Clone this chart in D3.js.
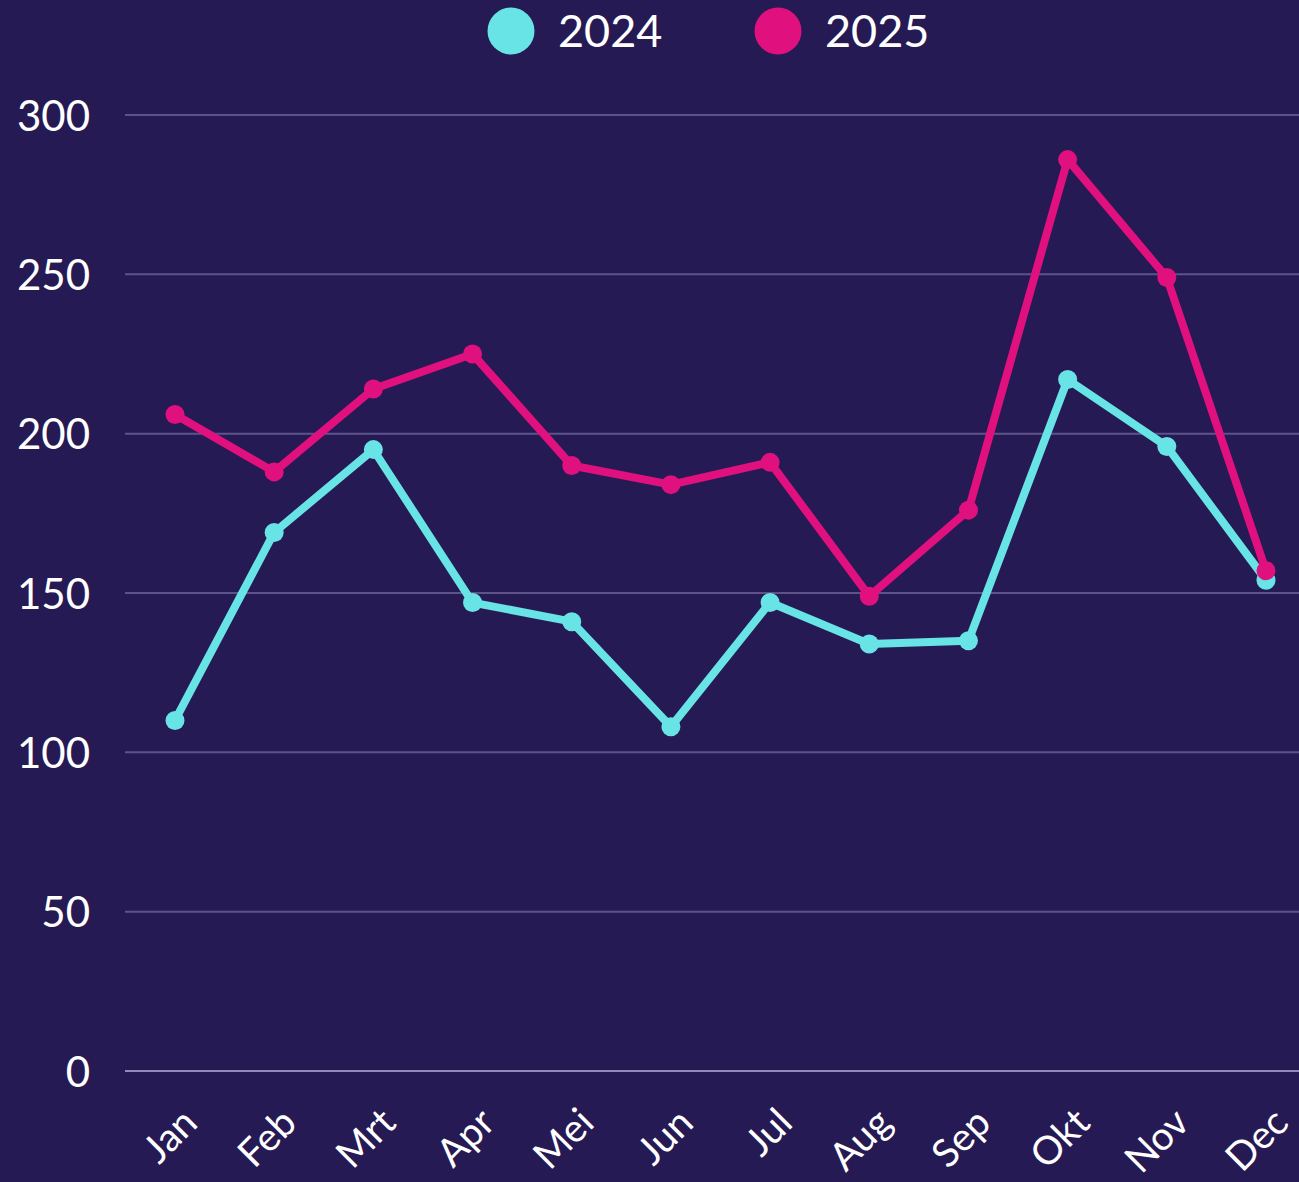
<!DOCTYPE html>
<html><head><meta charset="utf-8">
<script src="https://cdn.jsdelivr.net/npm/d3@7"></script>
<style>html,body{margin:0;padding:0;background:#261a54;}svg{display:block;}</style>
</head><body>
<svg id="c" width="1299" height="1182"></svg>
<script>
const months = ["Jan","Feb","Mrt","Apr","Mei","Jun","Jul","Aug","Sep","Okt","Nov","Dec"];
const series2024 = [110,169,195,147,141,108,147,134,135,217,196,154];
const series2025 = [206,188,214,225,190,184,191,149,176,286,249,157];
const yTicks = [0,50,100,150,200,250,300];
const seriesNames = ["2024","2025"];
const colors = ["#68e4e6","#e0107f"];

const font = "Lato, 'Open Sans', sans-serif";
const svg = d3.select("#c");
svg.append("rect").attr("width",1299).attr("height",1182).attr("fill","#261a54");

const x = d3.scalePoint().domain(months).range([175,1266]);
const y = d3.scaleLinear().domain([0,300]).range([1071,115]);

// grid
const yAxis = d3.axisLeft(y).tickValues(yTicks).tickSize(0).tickPadding(0).tickFormat(d3.format("d"));
const gy = svg.append("g");
yTicks.forEach(t=>{
  gy.append("line").attr("x1",125).attr("x2",1299).attr("y1",y(t)).attr("y2",y(t))
    .attr("stroke", t===0 ? "#9389bb" : "#5e5388").attr("stroke-width",2);
});
const ya = svg.append("g").attr("transform","translate(90,0)").call(yAxis);
ya.select(".domain").remove();
ya.selectAll("text").attr("fill","#ffffff").attr("font-family",font).attr("font-size",42)
  .attr("text-anchor","end").attr("dy","0.36em");

// x axis
const xa = svg.append("g").attr("transform","translate(0,1071)").call(d3.axisBottom(x).tickSize(0));
xa.select(".domain").remove();
xa.selectAll("text").attr("fill","#ffffff").attr("font-family",font).attr("font-size",39)
  .attr("text-anchor","end").attr("dy",0).attr("y",0)
  .attr("transform","translate(24,54) rotate(-45)");

// lines
const data = [series2024, series2025];
data.forEach((vals,i)=>{
  const pts = vals.map((v,j)=>[x(months[j]), y(v)]);
  svg.append("path").attr("d", d3.line()(pts)).attr("fill","none")
    .attr("stroke",colors[i]).attr("stroke-width",8).attr("stroke-linejoin","round").attr("stroke-linecap","round");
  svg.selectAll(null).data(pts).enter().append("circle")
    .attr("cx",d=>d[0]).attr("cy",d=>d[1]).attr("r",9.5).attr("fill",colors[i]);
});

// legend
const leg = svg.append("g");
const legX = [511, 778];
seriesNames.forEach((n,i)=>{
  leg.append("circle").attr("cx",legX[i]).attr("cy",31).attr("r",23.5).attr("fill",colors[i]);
  leg.append("text").attr("x",legX[i]+47).attr("y",31).attr("dy","0.36em")
    .attr("fill","#ffffff").attr("font-family",font).attr("font-size",45).text(n);
});
</script>
</body></html>
